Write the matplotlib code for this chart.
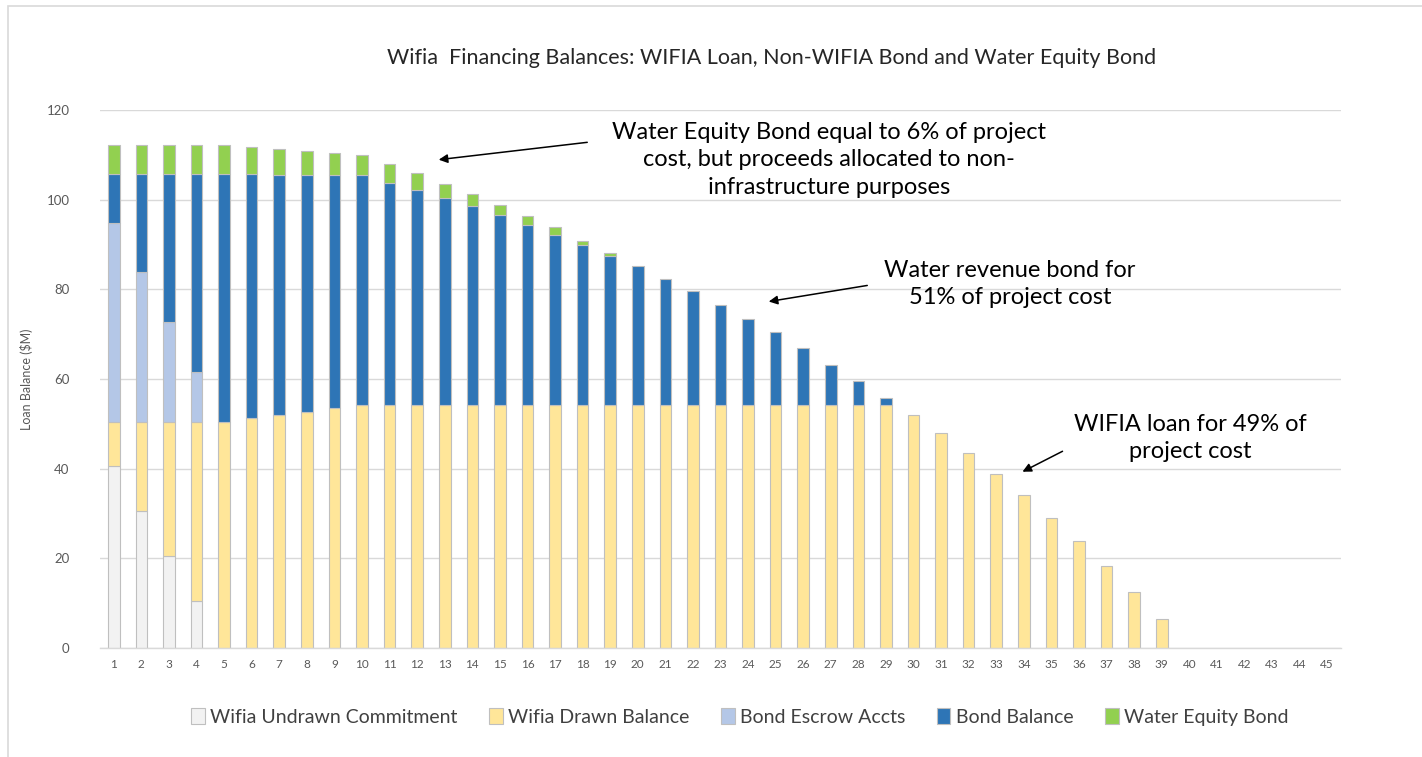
import matplotlib
matplotlib.use("Agg")
import matplotlib.pyplot as plt
from matplotlib.patches import Rectangle, Patch
import numpy as np

plt.rcParams['font.family'] = ['Lato', 'DejaVu Sans']

# ---- data ----
periods = list(range(1, 46))
undrawn = [40.5, 30.5, 20.5, 10.5] + [0] * 41
drawn = [10.0, 20.0, 30.0, 40.0, 50.5, 51.2, 52.0, 52.6, 53.5, 54.3,
         54.3, 54.3, 54.3, 54.3, 54.3, 54.3, 54.3, 54.3, 54.3, 54.3,
         54.3, 54.3, 54.3, 54.3, 54.3, 54.3, 54.3, 54.3, 54.3, 51.9,
         47.9, 43.6, 38.8, 34.1, 29.1, 23.8, 18.2, 12.5, 6.5, 0,
         0, 0, 0, 0, 0]
escrow = [44.4, 33.3, 22.2, 11.1] + [0] * 41
bond = [10.8, 21.9, 33.0, 44.1, 55.2, 54.5, 53.6, 53.0, 52.1, 51.1,
        49.4, 47.9, 46.1, 44.2, 42.2, 40.0, 37.9, 35.6, 33.1, 30.9,
        28.0, 25.3, 22.3, 19.1, 16.1, 12.6, 8.9, 5.3, 1.4] + [0] * 16
equity = [6.4, 6.4, 6.4, 6.4, 6.4, 6.1, 5.7, 5.2, 4.8, 4.6,
          4.3, 3.7, 3.1, 2.8, 2.4, 2.0, 1.6, 0.9, 0.6] + [0] * 26

series_names = ["Wifia Undrawn Commitment", "Wifia Drawn Balance",
                "Bond Escrow Accts", "Bond Balance", "Water Equity Bond"]
series_colors = ["#F2F2F2", "#FFE699", "#B4C7E7", "#2E75B6", "#92D050"]

title = "Wifia  Financing Balances: WIFIA Loan, Non-WIFIA Bond and Water Equity Bond"
ylabel = "Loan Balance ($M)"
notes = ["Water Equity Bond equal to 6% of project\ncost, but proceeds allocated to non-\ninfrastructure purposes",
         "Water revenue bond for\n51% of project cost",
         "WIFIA loan for 49% of\nproject cost"]

# ---- figure ----
W, H = 1422, 757
fig = plt.figure(figsize=(W / 100, H / 100), dpi=100)
fig.patch.set_facecolor("white")

def fx(px):
    return px / W

def fy(py):
    return 1 - py / H

# outer chart border (cropped on right/bottom)
fig.patches.append(Rectangle((fx(8), -0.1), 1.2, fy(6) + 0.1, transform=fig.transFigure,
                             fill=False, edgecolor="#D9D9D9", linewidth=1.2))

ax = fig.add_axes([fx(100), fy(648), fx(1341) - fx(100), fy(110) - fy(648)])
x = np.array(periods)
bottom = np.zeros(len(periods))
all_series = [undrawn, drawn, escrow, bond, equity]
for vals, name, col in zip(all_series, series_names, series_colors):
    v = np.array(vals, dtype=float)
    lws = [0.8 if val > 0 else 0 for val in v]
    ax.bar(x, v, width=0.42, bottom=bottom, color=col, edgecolor="#BFBFBF",
           linewidth=lws, label=name, zorder=3)
    bottom += v

ax.set_xlim(0.5, 45.5)
ax.set_ylim(0, 120)
ax.set_yticks(range(0, 121, 20))
ax.set_xticks(x)
ax.set_xticklabels([str(p) for p in periods])
ax.grid(axis="y", color="#D9D9D9", linewidth=1, zorder=0)
for s in ["top", "right", "left"]:
    ax.spines[s].set_visible(False)
ax.spines["bottom"].set_color("#D9D9D9")
ax.spines["bottom"].set_linewidth(1)
ax.spines["bottom"].set_zorder(4)
ax.tick_params(axis="both", length=0, colors="#595959")
ax.tick_params(axis="y", labelsize=9.5, pad=22)
ax.tick_params(axis="x", labelsize=8.5, pad=8)
ax.set_ylabel(ylabel, fontsize=9, color="#595959", labelpad=10)

fig.text(fx(772), fy(58), title, ha="center", va="center", fontsize=15.5, color="#262626")

# annotations
ax.annotate("", xy=(fx(436), fy(160)), xycoords="figure fraction",
            xytext=(fx(590), fy(142)), textcoords="figure fraction",
            arrowprops=dict(arrowstyle="-|>", color="black", lw=1.1, mutation_scale=13))
fig.text(fx(829), fy(160), notes[0], ha="center", va="center", fontsize=17,
         linespacing=1.4, color="black")

ax.annotate("", xy=(fx(766), fy(302)), xycoords="figure fraction",
            xytext=(fx(870), fy(285)), textcoords="figure fraction",
            arrowprops=dict(arrowstyle="-|>", color="black", lw=1.1, mutation_scale=13))
fig.text(fx(1010), fy(284), notes[1], ha="center", va="center", fontsize=17,
         linespacing=1.4, color="black")

ax.annotate("", xy=(fx(1020), fy(473)), xycoords="figure fraction",
            xytext=(fx(1065), fy(450)), textcoords="figure fraction",
            arrowprops=dict(arrowstyle="-|>", color="black", lw=1.1, mutation_scale=13))
fig.text(fx(1190), fy(438), notes[2], ha="center", va="center", fontsize=17,
         linespacing=1.4, color="black")

handles = [Patch(facecolor=c, edgecolor="#BFBFBF", linewidth=0.8, label=n)
           for n, c in zip(series_names, series_colors)]
fig.legend(handles=handles, loc="center", bbox_to_anchor=(fx(740), fy(717)), ncol=5,
           frameon=False, fontsize=14, handlelength=0.7, handleheight=0.9,
           handletextpad=0.3, columnspacing=1.6, labelcolor="#404040")

fig.savefig("out.png", dpi=100)
